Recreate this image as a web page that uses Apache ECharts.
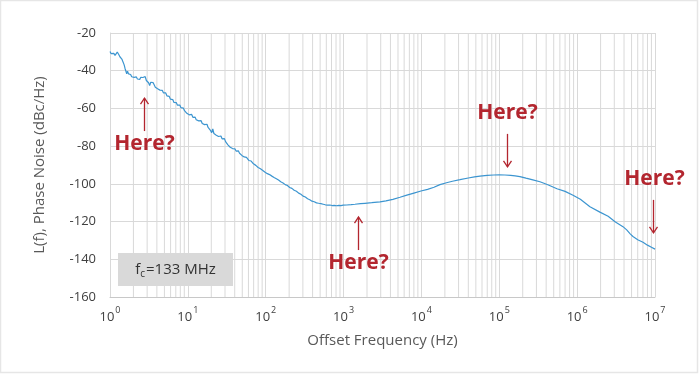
<!DOCTYPE html>
<html><head><meta charset="utf-8">
<script src="https://cdn.jsdelivr.net/npm/echarts@6/dist/echarts.min.js"></script>
<style>html,body{margin:0;padding:0;background:#fff}#c{width:700px;height:375px}</style>
</head><body><div id="c"></div>
<script>
const freqHz = [
 1.00,1.03,1.06,1.09,1.12,1.16,1.20,1.24,1.27,1.30,1.34,1.38,1.42,1.47,1.52,1.56,1.60,1.64,1.68,1.73,
 1.78,1.84,1.90,1.97,2.04,2.11,2.18,2.25,2.33,2.41,2.49,2.57,2.65,2.74,2.83,2.93,3.03,3.13,3.23,3.34,
 3.45,3.57,3.69,3.82,3.95,4.09,4.23,4.38,4.53,4.69,4.85,5.02,5.20,5.38,5.57,5.77,5.97,6.18,6.40,6.63,
 6.86,7.10,7.35,7.61,7.88,8.16,8.45,8.75,9.06,9.38,9.71,10.1,10.4,10.8,11.2,11.6,12.0,12.4,12.8,13.3,
 13.8,14.3,14.8,15.3,15.8,16.4,17.0,17.6,18.2,18.8,19.5,20.2,20.9,21.6,22.4,23.2,24.0,24.8,25.7,26.6,
 27.5,28.5,29.5,30.5,31.6,32.7,33.8,35.0,36.2,37.5,38.8,40.2,41.6,43.0,44.5,46.1,47.7,49.4,51.1,52.9,
 54.7,56.6,58.6,60.7,62.8,65.0,67.3,69.6,72.1,74.6,77.2,79.9,82.7,85.6,88.6,91.7,94.9,98.2,
 105,112,120,128,137,146,156,167,178,190,203,217,232,248,265,283,302,323,345,368,393,420,449,479,
 512,547,584,624,667,712,760,812,867,926,989,
 1100,1250,1403,1650,1884,2300,2940,3500,4300,5310,6500,8000,9860,12000,14500,17300,21000,25000,
 31300,40000,48000,56500,70000,85000,99000,118000,140000,160000,184000,220000,270000,333000,420000,
 551000,700000,885000,1100000,1460000,1960000,2500000,3100000,3880000,4100000,4330000,4800000,
 5210000,6000000,7010000,8000000,9000000,10000000
];
const phaseNoise = [
 -29.8,-30.9,-30.4,-31.6,-30.8,-31.9,-31.2,-30.1,-30.3,-31.5,-32.6,-33.1,-33.8,-34.6,-36.9,-38.8,-39.6,-41.6,-40.2,-41.7,
 -42.3,-42.0,-43.2,-42.6,-43.5,-43.9,-43.3,-44.4,-43.7,-44.6,-43.5,-42.8,-43.6,-44.2,-43.1,-45.2,-44.6,-46.4,-47.9,-46.1,
 -45.6,-46.3,-47.5,-48.8,-48.0,-49.6,-49.1,-50.3,-50.9,-50.4,-51.7,-52.4,-51.8,-53.3,-54.0,-53.6,-55.1,-55.8,-55.3,-56.8,
 -57.4,-56.9,-58.3,-58.9,-58.2,-59.6,-60.4,-59.8,-61.2,-61.9,-62.6,-62.1,-63.4,-63.9,-63.2,-64.7,-65.4,-64.6,-66.0,-65.3,
 -66.6,-67.4,-66.5,-68.0,-67.2,-68.6,-69.3,-68.4,-70.1,-70.8,-71.6,-72.9,-70.9,-73.3,-72.8,-74.2,-73.5,-74.9,-75.5,-74.6,
 -76.1,-76.6,-76.0,-77.6,-78.4,-79.3,-79.9,-80.6,-80.1,-81.3,-81.8,-81.4,-82.6,-83.0,-82.5,-83.8,-84.3,-84.9,-84.5,-85.7,
 -86.3,-86.0,-87.0,-87.6,-88.1,-87.9,-88.9,-89.4,-89.1,-90.2,-90.7,-91.3,-91.0,-92.0,-92.4,-92.9,-93.4,-93.8,
 -94.6,-95.1,-95.9,-96.6,-97.3,-98.0,-98.9,-99.5,-100.4,-100.9,-101.9,-102.4,-103.4,-103.9,-104.9,-105.5,-106.5,-107.0,-107.9,-108.4,-109.2,-109.5,-110.1,-110.3,
 -110.5,-110.8,-111.1,-111.3,-111.2,-111.5,-111.4,-111.6,-111.4,-111.5,-111.3,
 -111.2,-111.0,-110.8,-110.5,-110.3,-110.0,-109.6,-109.0,-108.2,-107.1,-106.0,-104.9,-103.8,-102.9,-101.8,-100.4,-99.4,-98.6,
 -97.8,-96.9,-96.3,-95.9,-95.5,-95.3,-95.2,-95.3,-95.5,-95.8,-96.2,-97.0,-97.9,-98.9,-100.5,
 -102.6,-104.0,-106.0,-108.2,-112.1,-115.0,-117.2,-120.2,-122.7,-123.2,-124.4,-126.5,
 -127.9,-129.6,-131.0,-132.5,-133.6,-134.6
];
const yTicks = [-160,-140,-120,-100,-80,-60,-40,-20];
const decadeExponents = [0,1,2,3,4,5,6,7];
const minorMultipliers = [2,3,4,5,6,7,8,9];
const annotations = [
  {text:'Here?', f:2.73, v:-54.5, dir:'up'},
  {text:'Here?', f:1531, v:-117.6, dir:'up'},
  {text:'Here?', f:125600, v:-91.0, dir:'down'},
  {text:'Here?', f:9420000, v:-126.0, dir:'down'}
];

const seriesData = freqHz.map((f,i)=>[f, phaseNoise[i]]);
const minorLines = [];
decadeExponents.slice(0,-1).forEach(e=>minorMultipliers.forEach(m=>minorLines.push(m*Math.pow(10,e))));

const chart = echarts.init(document.getElementById('c'), null, {renderer:'canvas'});
const FONT = '"Open Sans", "Noto Sans", sans-serif';
const RED = '#b3262f';
const GRID_C = '#d9d9d9';

chart.setOption({
  animation:false,
  textStyle:{fontFamily:FONT},
  grid:{left:110, right:45, top:33, bottom:78},
  xAxis:{
    type:'log', logBase:10, min:1, max:1e7,
    name:'Offset Frequency (Hz)', nameLocation:'middle', nameGap:36,
    nameTextStyle:{color:'#595959', fontSize:15, fontFamily:FONT},
    axisLine:{show:true, lineStyle:{color:'#c8c8c8'}},
    axisTick:{show:false},
    splitLine:{show:true, lineStyle:{color:GRID_C, width:1}},
    axisLabel:{
      margin:9,
      formatter:v=>'{b|10}{s|'+Math.round(Math.log10(v))+'}',
      rich:{
        b:{fontSize:13, color:'#404040', fontFamily:FONT, lineHeight:18, verticalAlign:'bottom'},
        s:{fontSize:9, color:'#404040', fontFamily:FONT, lineHeight:18, verticalAlign:'top', padding:[0,0,0,1]}
      }
    }
  },
  yAxis:{
    type:'value', min:-160, max:-20, interval:20,
    name:'L(f), Phase Noise (dBc/Hz)', nameLocation:'middle', nameGap:63, nameRotate:90,
    nameTextStyle:{color:'#595959', fontSize:15, fontFamily:FONT},
    axisLine:{show:true, lineStyle:{color:GRID_C}},
    axisTick:{show:false},
    splitLine:{show:true, lineStyle:{color:GRID_C, width:1}},
    axisLabel:{margin:14, color:'#404040', fontSize:13, fontFamily:FONT,
      formatter:v=>yTicks.includes(v)?String(v):''}
  },
  series:[
    {
      type:'custom', silent:true, z:1, data:minorLines,
      renderItem:(params, api)=>{
        const f = api.value(0);
        const p1 = api.coord([f,-20]), p2 = api.coord([f,-160]);
        return {type:'line', shape:{x1:p1[0],y1:p1[1],x2:p2[0],y2:p2[1]}, style:{stroke:GRID_C, lineWidth:1}};
      },
      encode:{x:0}
    },
    {
      type:'line', z:3, data:seriesData, showSymbol:false, symbol:'none',
      lineStyle:{color:'#3c95d0', width:1.2}, itemStyle:{color:'#3c95d0'}
    }
  ]
});

// annotations anchored to data coordinates
const gfx = [];
gfx.push({type:'rect', shape:{x:0.5,y:0.5,width:697,height:372}, style:{fill:'none', stroke:'#e6e6e6', lineWidth:1.5}, silent:true});
annotations.forEach(a=>{
  const p = chart.convertToPixel({gridIndex:0}, [a.f, a.v]);
  const x = Math.round(p[0])+0.5, y = p[1];
  const len = 33;
  let tailY, textY;
  if (a.dir==='up'){ tailY = y+len; textY = tailY+13; }
  else { tailY = y-len; textY = tailY-21; }
  const hs = a.dir==='up'?6:-6;
  gfx.push({type:'line', shape:{x1:x,y1:y,x2:x,y2:tailY}, style:{stroke:RED, lineWidth:1.3}, silent:true, z:10});
  gfx.push({type:'polyline', shape:{points:[[x-4,y+hs],[x,y],[x+4,y+hs]]}, style:{stroke:RED, lineWidth:1.3, fill:'none'}, silent:true, z:10});
  gfx.push({type:'text', x:x+(a.dir==='down'&&a.f>1e6?1:0), y:textY, style:{text:a.text, fill:RED, font:'bold 21px '+FONT, align:'center', verticalAlign:'middle'}, silent:true, z:10});
});
// fc label box
gfx.push({type:'rect', shape:{x:118,y:253,width:115,height:33}, style:{fill:'#d9d9d9'}, silent:true, z:5});
gfx.push({type:'text', x:175.5, y:269.5, z:6, silent:true,
  style:{text:'{a|f}{b|c}{a|=133 MHz}', align:'center', verticalAlign:'middle',
    rich:{a:{fontSize:15, fill:'#333', fontFamily:FONT, lineHeight:20, verticalAlign:'middle'},
          b:{fontSize:10, fill:'#333', fontFamily:FONT, lineHeight:20, verticalAlign:'bottom', padding:[0,1,0,0]}}}});
chart.setOption({graphic:gfx});
</script></body></html>
